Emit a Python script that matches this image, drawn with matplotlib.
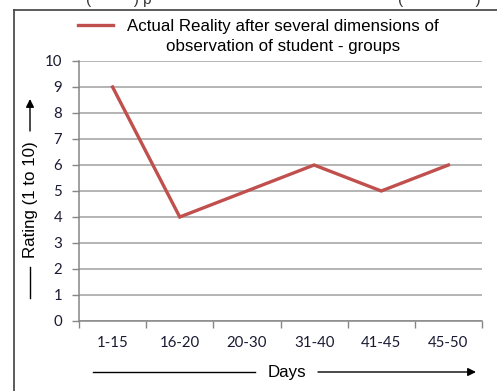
import matplotlib
matplotlib.use('Agg')
import matplotlib.pyplot as plt
from matplotlib.lines import Line2D
from matplotlib.ticker import FixedLocator

# data
days = ['1-15', '16-20', '20-30', '31-40', '41-45', '45-50']
rating = [9, 4, 5, 6, 5, 6]
series_name = 'Actual Reality after several dimensions of\nobservation of student - groups'

W, H = 497, 391
fig = plt.figure(figsize=(W / 100, H / 100), dpi=100)


def fx(px):
    return px / W


def fy(py):
    return 1 - py / H


ax = fig.add_axes([fx(79), fy(321), fx(482) - fx(79), fy(61) - fy(321)])
x = list(range(len(days)))
ax.plot(x, rating, color='#c0504d', lw=2.4, solid_joinstyle='miter', zorder=3)

ax.set_xlim(-0.5, len(days) - 0.5)
ax.set_ylim(0, 10)
ax.set_yticks(range(0, 11))
ax.set_xticks(x)
ax.set_xticklabels(days)
ax.xaxis.set_minor_locator(FixedLocator([i - 0.5 for i in range(len(days) + 1)]))
ax.tick_params(axis='x', which='major', length=0, pad=11)
ax.tick_params(axis='x', which='minor', length=5, color='#868686', width=1)
ax.tick_params(axis='y', length=5, color='#868686', width=1, pad=7)
for lab in ax.get_xticklabels() + ax.get_yticklabels():
    lab.set_fontfamily('Lato')
    lab.set_fontsize(10.8)
    lab.set_color('#1a1a33')
ax.grid(axis='y', color='#a0a0a0', lw=1.1)
ax.set_axisbelow(True)
for s in ['top', 'right']:
    ax.spines[s].set_visible(False)
for s in ['left', 'bottom']:
    ax.spines[s].set_color('#868686')
    ax.spines[s].set_linewidth(1.1)

font = 'Liberation Sans'
fs = 12.2

# legend above the plot
fig.add_artist(Line2D([fx(78), fx(113)], [fy(25), fy(25)], color='#c0504d', lw=2.4))
fig.text(fx(283), fy(36.5), series_name, ha='center', va='center', fontsize=fs,
         family=font, linespacing=1.38)

# y axis caption with arrow
fig.text(fx(30), fy(200), 'Rating (1 to 10)', rotation=90, ha='center', va='center',
         fontsize=fs, family=font)
fig.add_artist(Line2D([fx(30), fx(30)], [fy(267), fy(298)], color='black', lw=1))
fig.add_artist(plt.Annotation('', xy=(fx(30), fy(99)), xytext=(fx(30), fy(131)),
                              xycoords='figure fraction', textcoords='figure fraction',
                              arrowprops=dict(arrowstyle='-|>', color='black', lw=1,
                                              mutation_scale=12, shrinkA=0, shrinkB=0)))

# x axis caption with arrow
fig.text(fx(287), fy(372), 'Days', ha='center', va='center', fontsize=fs, family=font)
fig.add_artist(Line2D([fx(93), fx(255)], [fy(372), fy(372)], color='black', lw=1))
fig.add_artist(plt.Annotation('', xy=(fx(476), fy(372)), xytext=(fx(318), fy(372)),
                              xycoords='figure fraction', textcoords='figure fraction',
                              arrowprops=dict(arrowstyle='-|>', color='black', lw=1,
                                              mutation_scale=12, shrinkA=0, shrinkB=0)))

# page frame and clipped text from the line above
fig.add_artist(Line2D([fx(13.5), fx(13.5)], [fy(10), 0], color='#404040', lw=1.2))
fig.add_artist(Line2D([fx(13.5), 1], [fy(10), fy(10)], color='#404040', lw=1.2))
fig.text(fx(86), fy(4), '(          ) p', ha='left', va='baseline', fontsize=11,
         family=font, color='#333333')
fig.text(fx(398), fy(4), '(                 )', ha='left', va='baseline', fontsize=11,
         family=font, color='#333333')

fig.savefig('out.png', dpi=100)
